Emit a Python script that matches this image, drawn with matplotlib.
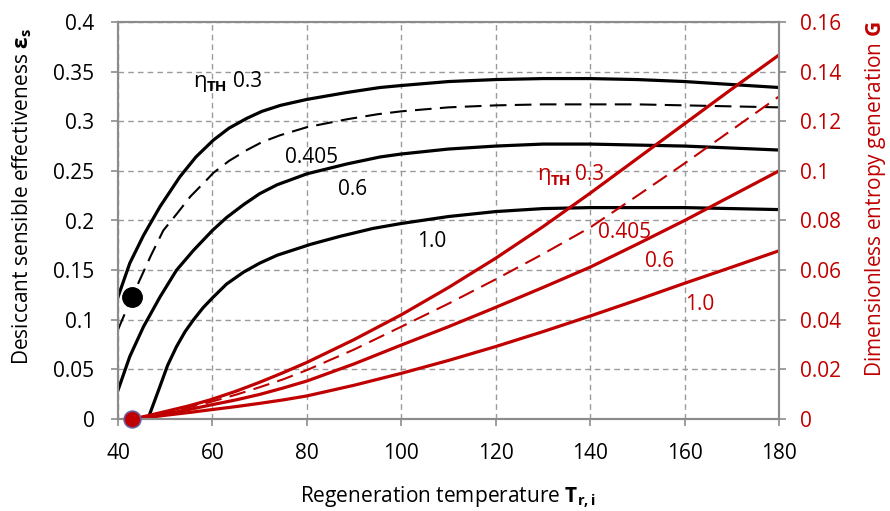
import matplotlib
matplotlib.use("Agg")
import matplotlib.pyplot as plt
import numpy as np

plt.rcParams['font.family'] = ['Open Sans', 'DejaVu Sans']
plt.rcParams['mathtext.fontset'] = 'custom'
plt.rcParams['mathtext.rm'] = 'Open Sans'
plt.rcParams['mathtext.it'] = 'Open Sans:italic'
plt.rcParams['mathtext.bf'] = 'Open Sans:bold'
plt.rcParams['lines.solid_joinstyle'] = 'round'
plt.rcParams['lines.dash_joinstyle'] = 'round'

RED = '#C00000'
GRID = '#9a9a9a'

# desiccant sensible effectiveness (left axis)
T_03 = [40, 42.5, 45.4, 48.9, 53.1, 56.5, 60.2, 63.5, 67.3, 70.5, 74.4, 80, 88.5, 95.5, 100, 110, 120, 130, 140, 150, 160, 170, 180]
eps_03 = [0.123, 0.157, 0.185, 0.214, 0.244, 0.264, 0.281, 0.293, 0.303, 0.310, 0.316, 0.322, 0.329, 0.334, 0.336, 0.340, 0.342, 0.343, 0.343, 0.342, 0.340, 0.337, 0.334]

T_0405 = [40, 42.5, 44.6, 47.0, 49.6, 52.5, 55.3, 58.8, 60.2, 63.5, 67.3, 70.5, 74.4, 80, 88.5, 94.9, 100, 110, 120, 130, 140, 150, 160, 170, 180]
eps_0405 = [0.090, 0.118, 0.140, 0.165, 0.190, 0.207, 0.224, 0.241, 0.248, 0.260, 0.271, 0.279, 0.286, 0.294, 0.302, 0.307, 0.310, 0.314, 0.316, 0.317, 0.317, 0.317, 0.316, 0.315, 0.314]

T_06 = [40, 42.5, 45.4, 48.9, 52.4, 56, 60, 63, 66.6, 70, 73.7, 80, 88.5, 95.5, 100, 110, 120, 130, 140, 150, 160, 170, 180]
eps_06 = [0.029, 0.063, 0.093, 0.123, 0.150, 0.170, 0.190, 0.203, 0.216, 0.227, 0.236, 0.247, 0.257, 0.264, 0.267, 0.272, 0.275, 0.277, 0.277, 0.276, 0.275, 0.273, 0.271]

T_10 = [46.8, 48.9, 50.5, 52.4, 54.2, 56, 58, 60, 63, 66.6, 70, 73.7, 80.8, 87, 94, 100, 110, 120, 130, 140, 150, 160, 170, 180]
eps_10 = [0.006, 0.033, 0.054, 0.073, 0.088, 0.100, 0.112, 0.122, 0.136, 0.148, 0.157, 0.165, 0.176, 0.184, 0.192, 0.197, 0.204, 0.209, 0.212, 0.213, 0.213, 0.213, 0.212, 0.211]

# dimensionless entropy generation (right axis)
T_G = [43, 46, 50, 55, 59.5, 65, 70, 75, 80, 90, 100, 110, 120, 130, 140, 150, 160, 170, 180]
G_03 = [0, 0.0012, 0.0030, 0.0053, 0.0077, 0.0112, 0.0148, 0.0187, 0.0228, 0.0320, 0.0420, 0.0530, 0.0648, 0.0775, 0.0910, 0.1050, 0.1190, 0.1330, 0.1467]
G_0405 = [0, 0.0010, 0.0025, 0.0047, 0.0068, 0.0098, 0.0128, 0.0160, 0.0197, 0.0280, 0.0372, 0.0465, 0.0563, 0.0665, 0.0772, 0.0900, 0.1030, 0.1165, 0.1300]
G_06 = [0, 0.0008, 0.0020, 0.0038, 0.0056, 0.0077, 0.0099, 0.0125, 0.0153, 0.0222, 0.0298, 0.0372, 0.0450, 0.0530, 0.0612, 0.0705, 0.0800, 0.0900, 0.1000]
G_10 = [0, 0.0005, 0.0015, 0.0026, 0.0037, 0.0050, 0.0063, 0.0077, 0.0093, 0.0136, 0.0184, 0.0236, 0.0292, 0.0352, 0.0415, 0.0480, 0.0547, 0.0612, 0.0678]

dot_T = 43
dot_eps = 0.123
dot_G = 0.0

fig = plt.figure(figsize=(8.9, 5.11), dpi=100)
ax = fig.add_axes([118/890, 1 - 419/511, (779 - 118)/890, (419 - 22)/511])
ax2 = ax.twinx()

ax.set_xlim(40, 180)
ax.set_ylim(0, 0.4)
ax2.set_ylim(0, 0.16)

ax.set_xticks(np.arange(40, 181, 20))
ax.set_yticks(np.arange(0, 0.401, 0.05))
ax.set_yticklabels(['0', '0.05', '0.1', '0.15', '0.2', '0.25', '0.3', '0.35', '0.4'])
ax2.set_yticks(np.arange(0, 0.161, 0.02))
ax2.set_yticklabels(['0', '0.02', '0.04', '0.06', '0.08', '0.1', '0.12', '0.14', '0.16'])

ax.grid(True, color=GRID, linestyle=(0, (4, 3)), linewidth=1.0)
ax.set_axisbelow(True)
for a in (ax, ax2):
    for s in a.spines.values():
        s.set_color('#8c8c8c')
        s.set_linewidth(1.5)
ax.xaxis.set_tick_params(which='major', direction='out', length=5, width=1.2, color='#8c8c8c', labelsize=15, pad=12)
ax.yaxis.set_tick_params(which='major', direction='out', length=5, width=1.2, color='#8c8c8c', labelsize=15, pad=12)
ax2.yaxis.set_tick_params(which='major', direction='out', length=5, width=1.2, color='#8c8c8c', labelsize=15, pad=10, labelcolor=RED)

ax.plot(T_03, eps_03, color='black', lw=2.3)
ax.plot(T_0405, eps_0405, color='black', lw=1.5, dashes=(8, 4))
ax.plot(T_06, eps_06, color='black', lw=2.3)
ax.plot(T_10, eps_10, color='black', lw=2.3)

ax2.plot(T_G, G_03, color=RED, lw=2.3)
ax2.plot(T_G, G_0405, color=RED, lw=1.5, dashes=(8, 4))
ax2.plot(T_G, G_06, color=RED, lw=2.3)
ax2.plot(T_G, G_10, color=RED, lw=2.3)

ax.plot([dot_T], [dot_eps], 'o', color='black', ms=14, zorder=5, clip_on=False)
ax2.plot([dot_T], [dot_G], 'o', color=RED, mec='#6a5a9c', mew=1.2, ms=12, zorder=5, clip_on=False)

# curve labels (black, left axis)
ax.text(55.9, 0.335, 'η', fontsize=16, ha='left', va='baseline')
ax.text(58.8, 0.330, 'TH', fontsize=11, fontweight='bold', ha='left', va='baseline')
ax.text(64.4, 0.335, '0.3', fontsize=15, ha='left', va='baseline')
ax.text(81.1, 0.258, '0.405', fontsize=15, ha='center', va='baseline')
ax.text(89.6, 0.226, '0.6', fontsize=15, ha='center', va='baseline')
ax.text(106.5, 0.173, '1.0', fontsize=15, ha='center', va='baseline')

# curve labels (red, right axis series)
ax.text(128.8, 0.241, 'η', fontsize=16, ha='left', va='baseline', color=RED)
ax.text(131.7, 0.236, 'TH', fontsize=11, fontweight='bold', ha='left', va='baseline', color=RED)
ax.text(136.8, 0.241, '0.3', fontsize=15, ha='left', va='baseline', color=RED)
ax.text(147.2, 0.1825, '0.405', fontsize=15, ha='center', va='baseline', color=RED)
ax.text(154.6, 0.153, '0.6', fontsize=15, ha='center', va='baseline', color=RED)
ax.text(163.3, 0.110, '1.0', fontsize=15, ha='center', va='baseline', color=RED)

fig.text(448/890, 1 - 497/511, r'Regeneration temperature $\mathbf{T_{r,i}}$', fontsize=15, ha='center', va='center')
fig.text(22/890, 1 - 197/511, r'Desiccant sensible effectiveness $\mathbf{ε_s}$', fontsize=15, rotation=90, ha='center', va='center')
fig.text(876/890, 1 - 199/511, r'Dimensionless entropy generation $\mathbf{G}$', fontsize=15, rotation=90, ha='center', va='center', color=RED)

fig.savefig('out.png', dpi=100)
